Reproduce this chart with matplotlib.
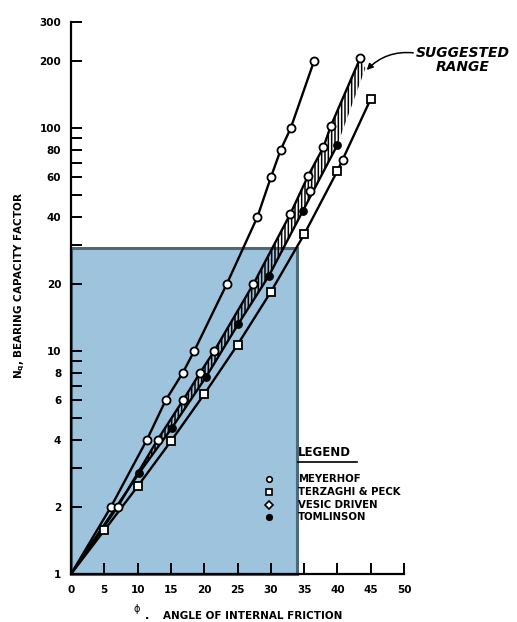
import matplotlib
matplotlib.use("Agg")
import matplotlib.pyplot as plt
from matplotlib.patches import Rectangle

# Bearing capacity factor Nq versus angle of internal friction (degrees)
meyerhof_phi = [0, 6.0, 11.4, 14.2, 16.8, 18.5, 23.4, 28.0, 30.0, 31.5, 33.0, 36.5]
meyerhof_nq = [1, 2, 4, 6, 8, 10, 20, 40, 60, 80, 100, 200]

vesic_phi = [0, 7.0, 13.0, 16.8, 19.4, 21.5, 27.4, 32.9, 35.6, 37.9, 39.0, 43.4]
vesic_nq = [1, 2, 4, 6, 8, 10, 20, 41, 61, 82, 102, 205]

vesic_extra_phi = [35.9, 40.9]
vesic_extra_nq = [52, 72]

tomlinson_phi = [0, 10.2, 15.1, 20.3, 25.1, 29.7, 34.8, 40.0]
tomlinson_nq = [1, 2.83, 4.5, 7.67, 13.2, 21.7, 42.4, 84]

terzaghi_phi = [0, 5, 10, 15, 20, 25, 30, 35, 40, 45]
terzaghi_nq = [1, 1.57, 2.47, 3.94, 6.40, 10.66, 18.4, 33.3, 64.2, 134.9]

# upper end of the suggested range band
band_end_phi = 44.2
band_end_nq = 185

# highlighted region
region_phi = 34.0
region_nq = 29.0

x_ticks = [0, 5, 10, 15, 20, 25, 30, 35, 40, 45, 50]
y_ticks = [1, 2, 3, 4, 5, 6, 7, 8, 9, 10, 20, 30, 40, 50, 60, 70, 80, 90, 100, 200, 300]
y_labeled = [1, 2, 4, 6, 8, 10, 20, 40, 60, 80, 100, 200, 300]

W, H = 517, 622
plt.rcParams["font.family"] = ["DejaVu Sans"]
plt.rcParams["hatch.linewidth"] = 1.1
plt.rcParams["hatch.color"] = "black"


def fx(px):
    return px / W


def fy(py):
    return 1 - py / H


fig = plt.figure(figsize=(W / 100, H / 100), dpi=100)
ax = fig.add_axes([fx(71), fy(574), (404 - 71) / W, (574 - 21.6) / H])
ax.set_yscale("log")
ax.set_xlim(0, 50)
ax.set_ylim(1, 300)

# shaded region
ax.add_patch(Rectangle((0, 1), region_phi, region_nq - 1, facecolor="#9dc3dd",
                       edgecolor="#4d6a7d", linewidth=2.2, zorder=0.5, clip_on=False))

# suggested range band (hatched)
band_x = vesic_phi + [band_end_phi] + tomlinson_phi[::-1]
band_y = vesic_nq + [band_end_nq] + tomlinson_nq[::-1]
ax.fill(band_x, band_y, facecolor="none", edgecolor="black", linewidth=0,
        hatch="|||||", zorder=1)

lw = 1.7
ms = 5.8
ax.plot(meyerhof_phi, meyerhof_nq, color="black", lw=lw, zorder=2)
ax.plot(vesic_phi, vesic_nq, color="black", lw=lw, zorder=2)
ax.plot(tomlinson_phi, tomlinson_nq, color="black", lw=lw, zorder=2)
ax.plot(terzaghi_phi, terzaghi_nq, color="black", lw=lw, zorder=2)

ax.plot(meyerhof_phi[1:], meyerhof_nq[1:], "o", ms=ms, mfc="white", mec="black", mew=1.3, zorder=3)
ax.plot(vesic_phi[1:], vesic_nq[1:], "o", ms=ms, mfc="white", mec="black", mew=1.3, zorder=3)
ax.plot(vesic_extra_phi, vesic_extra_nq, "o", ms=ms, mfc="white", mec="black", mew=1.3, zorder=3)
ax.plot(terzaghi_phi[1:], terzaghi_nq[1:], "s", ms=ms, mfc="white", mec="black", mew=1.3, zorder=3)
ax.plot(tomlinson_phi[1:], tomlinson_nq[1:], "o", ms=5.3, mfc="black", mec="black", zorder=3)

for s in ("top", "right"):
    ax.spines[s].set_visible(False)
for s in ("left", "bottom"):
    ax.spines[s].set_linewidth(1.6)
    ax.spines[s].set_color("black")

ax.set_xticks(x_ticks)
ax.set_xticklabels([str(v) for v in x_ticks])
ax.set_yticks(y_ticks)
ax.set_yticklabels([str(v) if v in y_labeled else "" for v in y_ticks])
ax.yaxis.set_minor_locator(matplotlib.ticker.NullLocator())
ax.tick_params(axis="both", direction="in", length=8, width=1.4, labelsize=7.5)
ax.tick_params(axis="y", pad=7)
ax.tick_params(axis="x", pad=8)
for lab in ax.get_xticklabels() + ax.get_yticklabels():
    lab.set_fontweight("bold")

# axis titles
fig.text(fx(20), fy(286), r"N$_\mathbf{q}$, BEARING CAPACITY FACTOR", rotation=90,
         ha="center", va="center", fontsize=7.5, fontweight="bold")
fig.text(fx(137), fy(609), "\u03d5", ha="center", va="center", fontsize=7)
fig.text(fx(147), fy(616), ".", ha="center", va="center", fontsize=8, fontweight="bold")
fig.text(fx(163), fy(616), "ANGLE OF INTERNAL FRICTION", ha="left", va="center",
         fontsize=7.5, fontweight="bold")

# legend
fig.text(fx(298), fy(453), "LEGEND", ha="left", va="center", fontsize=8.5, fontweight="bold")
fig.add_artist(plt.Line2D([fx(298), fx(357)], [fy(462), fy(462)], color="black", lw=1.2))
entries = [("o", "white", "MEYERHOF"), ("s", "white", "TERZAGHI & PECK"),
           ("D", "white", "VESIC DRIVEN"), ("o", "black", "TOMLINSON")]
for i, (mk, fc, name) in enumerate(entries):
    y = 479 + i * 12.8
    fig.add_artist(plt.Line2D([fx(269)], [fy(y)], marker=mk, ms=4 if mk != "D" else 3.8,
                              mfc=fc, mec="black", mew=1.2, linestyle="none"))
    fig.text(fx(298), fy(y), name, ha="left", va="center", fontsize=7.3, fontweight="bold")

# suggested range annotation
ax.annotate("SUGGESTED\nRANGE", xy=(44.4, 182), xycoords="data",
            xytext=(fx(463), fy(60)), textcoords="figure fraction",
            ha="center", va="center", fontsize=10, fontweight="bold", style="italic",
            linespacing=0.95, annotation_clip=False,
            arrowprops=dict(arrowstyle="-|>", color="black", lw=1.1,
                            shrinkA=0, shrinkB=0, mutation_scale=9,
                            connectionstyle="arc3,rad=0.25",
                            relpos=(0.0, 0.75)))

fig.savefig("out.png", dpi=100, facecolor="white")
